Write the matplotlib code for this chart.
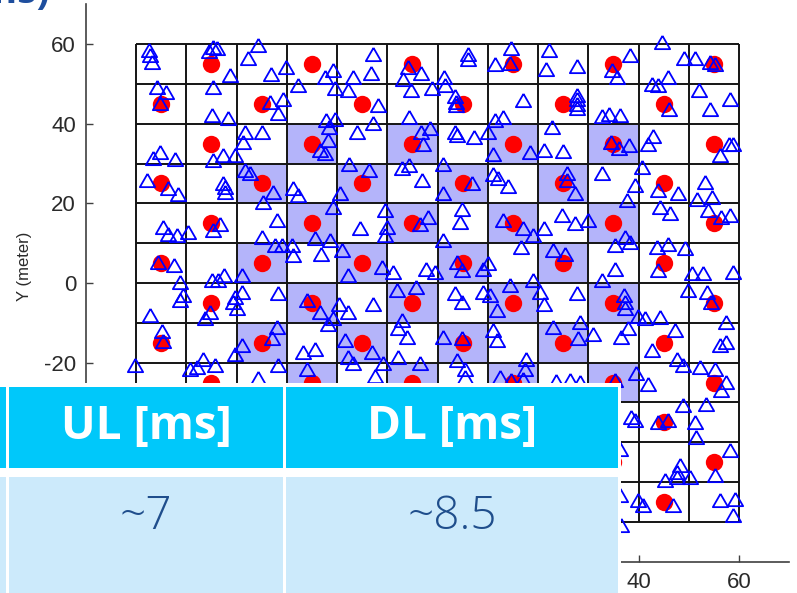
import matplotlib
matplotlib.use('Agg')
import matplotlib.pyplot as plt
from matplotlib.patches import Rectangle

# base stations (red dots), one list of x per row of cells
bs_rows_y = [55, 45, 35, 25, 15, 5, -5, -15, -25, -35, -45, -55]
bs_rows_x = [
    [-45, -25, -5, 15, 35, 55],
    [-55, -35, -15, 5, 25, 45],
    [-45, -25, -5, 15, 35, 55],
    [-55, -35, -15, 5, 25, 45],
    [-45, -25, -5, 15, 35, 55],
    [-55, -35, -15, 5, 25, 45],
    [-45, -25, -5, 15, 35, 55],
    [-55, -35, -15, 5, 25, 45],
    [-45, -25, -5, 15, 35, 55],
    [-55, -35, -15, 5, 25, 45],
    [-45, -25, -5, 15, 35, 55],
    [-55, -35, -15, 5, 25, 45],
]

# shaded cells (centres)
shade_x = [-25, -5, 15, 35, -35, -15, 5, 25, -25, -5, 15, 35, -35, -15, 5, 25,
           -25, -5, 15, 35, -35, -15, 5, 25, -25, -5, 15, 35, -35, -15, 5, 25]
shade_y = [35] * 4 + [25] * 4 + [15] * 4 + [5] * 4 + [-5] * 4 + [-15] * 4 + [-25] * 4 + [-35] * 4

# users (blue triangles), grouped by band of y
ue_band1 = [(-57.4, 58.5), (-57.2, 57.2), (-56.8, 55.5), (-44.7, 59.2), (-43.9, 59.0), (-45.5, 58.3),
            (-41.3, 52.2), (-35.8, 59.7), (-37.7, 56.4), (-33.2, 52.6), (-30.2, 54.3), (-22.4, 51.8),
            (-20.8, 53.5), (-12.9, 57.5), (-13.2, 52.8), (-16.9, 51.8), (-5.8, 54.3), (-3.2, 52.8),
            (-6.8, 51.2), (1.3, 51.6), (1.5, 49.6), (6.0, 57.5), (6.1, 56.2), (11.5, 55.1), (14.4, 55.3),
            (14.7, 58.9), (21.5, 53.7), (22.2, 58.5), (27.7, 54.5), (38.3, 57.2), (34.7, 53.5), (35.8, 51.6),
            (44.6, 60.4), (49.1, 56.4), (51.2, 56.5), (54.3, 55.6), (55.2, 54.9), (45.9, 51.8), (42.7, 49.9),
            (43.9, 49.7)]
ue_band2 = [(-44.6, 49.3), (-55.8, 49.2), (-54.0, 47.9), (-55.2, 45.2), (-44.9, 42.2), (-41.7, 41.4),
            (-33.3, 45.5), (-30.7, 46.3), (-31.7, 42.6), (-27.7, 49.7), (-22.1, 40.9), (-20.4, 48.9),
            (-17.8, 48.4), (-5.3, 48.5), (-1.0, 49.0), (3.5, 47.0), (3.7, 45.5), (3.6, 44.7), (-11.8, 44.7),
            (-12.9, 40.2), (-20.4, 41.3), (-5.6, 41.6), (17.1, 45.9), (11.4, 40.9), (13.1, 41.6),
            (27.7, 47.2), (27.7, 46.2), (27.7, 44.9), (27.7, 43.9), (32.8, 41.9), (34.2, 42.4), (36.3, 42.2),
            (46.0, 43.6), (52.0, 48.4), (58.2, 46.3), (54.2, 43.8)]
ue_band3 = [(-55.2, 32.9), (-56.6, 31.4), (-52.2, 31.1), (-44.7, 30.9), (-42.7, 32.1), (-40.3, 32.1),
            (-38.3, 37.9), (-34.9, 37.9), (-38.7, 35.4), (-21.8, 35.9), (-22.4, 32.6), (-23.4, 33.4),
            (-21.6, 39.2), (-16.1, 38.0), (-3.3, 38.0), (-1.4, 38.9), (-2.9, 35.0), (3.4, 38.0), (3.8, 37.1),
            (7.2, 36.6), (10.1, 38.0), (11.1, 32.4), (18.4, 32.8), (-17.6, 30.0), (22.7, 39.2), (21.2, 33.4),
            (25.0, 33.2), (34.6, 35.3), (38.1, 34.6), (36.1, 34.0), (42.9, 36.9), (41.9, 34.8), (58.0, 35.0),
            (58.9, 35.0), (56.2, 32.1)]
ue_band4 = [(-57.8, 25.8), (-53.6, 23.8), (-51.6, 22.3), (-42.7, 25.1), (-42.3, 24.1), (-42.3, 22.8),
            (-38.3, 28.3), (-37.3, 27.6), (-32.7, 22.8), (-34.7, 20.3), (-28.8, 23.8), (-27.8, 22.1),
            (-19.4, 22.5), (-20.8, 19.0), (-13.6, 28.3), (-7.0, 28.8), (-5.7, 29.6), (-3.0, 25.8), (1.0, 30.0),
            (1.1, 22.5), (6.8, 25.0), (11.0, 27.3), (12.0, 26.4), (14.1, 24.3), (25.7, 27.7), (25.7, 25.8),
            (27.4, 22.5), (32.8, 27.5), (40.6, 29.2), (39.3, 24.6), (37.7, 20.8), (43.9, 23.3), (47.9, 22.5),
            (53.2, 25.4), (51.7, 21.2), (54.6, 21.6)]
ue_band5 = [(-54.6, 14.1), (-53.6, 12.4), (-51.9, 12.0), (-49.6, 12.8), (-44.6, 13.3), (-43.3, 14.9),
            (-35.0, 11.6), (-32.3, 9.5), (-31.0, 9.5), (-29.0, 9.5), (-32.0, 15.8), (-24.4, 11.2),
            (-21.4, 10.8), (-10.5, 18.3), (-10.1, 14.1), (-10.5, 12.0), (-15.4, 13.7), (-1.8, 16.6),
            (-3.5, 14.9), (4.8, 18.5), (4.5, 15.4), (13.1, 15.8), (17.1, 13.7), (19.1, 12.0), (1.1, 10.8),
            (16.7, 9.1), (24.7, 17.0), (27.4, 15.0), (30.0, 15.8), (21.1, 13.7), (35.3, 9.5), (37.3, 11.6),
            (38.3, 10.3), (44.3, 19.1), (46.3, 17.5), (43.6, 9.1), (45.9, 9.9), (49.2, 8.7), (53.9, 18.3),
            (56.5, 16.6), (58.2, 17.0)]
ue_band6 = [(-55.6, 5.3), (-52.4, 4.5), (-51.2, 0.3), (-44.9, 0.7), (-43.6, 0.7), (-42.4, 1.9),
            (-39.0, 1.9), (-28.7, 7.0), (-23.1, 7.4), (-19.1, 8.2), (-17.8, 2.0), (-11.1, 4.1), (-8.8, 2.8),
            (-2.2, 3.6), (-0.5, 2.8), (3.8, 5.3), (4.8, 3.2), (9.1, 3.6), (10.1, 4.9), (14.4, -0.6),
            (19.1, 0.7), (23.0, 8.2), (25.4, 7.4), (35.3, 3.6), (32.7, 0.7), (43.9, 3.2), (50.6, 2.4),
            (52.9, 2.4), (58.9, 2.8)]
ue_band7 = [(-51.2, -4.3), (-50.6, -3.1), (-57.2, -8.1), (-45.3, -7.3), (-46.3, -8.9), (-40.6, -4.7),
            (-40.0, -6.4), (-40.3, -3.5), (-39.0, -2.2), (-31.7, -2.6), (-26.0, -4.3), (-23.4, -7.3),
            (-21.7, -10.2), (-19.7, -5.2), (-17.8, -7.3), (-20.7, -8.9), (-12.8, -5.2), (-8.1, -1.8),
            (-4.3, -0.9), (3.5, -2.6), (4.8, -4.7), (9.1, -2.2), (10.4, -3.1), (11.8, -6.8), (20.4, -2.2),
            (21.1, -5.2), (27.7, -2.6), (37.2, -3.1), (37.3, -4.7), (37.3, -6.4), (39.9, -8.3), (41.3, -8.9),
            (44.3, -8.5), (49.9, -1.8), (53.6, -2.2), (54.5, -4.7), (57.5, -9.8)]
ue_band8 = [(-54.9, -12.0), (-54.6, -14.6), (-32.0, -11.0), (-33.0, -13.9), (-39.0, -15.6), (-40.3, -17.7),
            (-26.7, -17.3), (-24.4, -16.5), (-46.6, -19.0), (-47.9, -21.1), (-44.3, -20.6), (-49.3, -21.5),
            (-60.2, -20.6), (-31.7, -20.6), (-26.0, -21.5), (-35.7, -23.8), (-7.1, -9.3), (-7.8, -11.4),
            (-6.1, -13.5), (-18.4, -14.4), (-13.1, -17.3), (-17.8, -18.6), (-16.8, -20.2), (1.1, -13.5),
            (4.8, -13.9), (11.1, -11.9), (11.8, -14.4), (17.7, -19.0), (17.4, -21.5), (-7.8, -18.6),
            (-3.5, -20.2), (3.8, -19.4), (5.5, -21.5), (-12.4, -23.4), (-10.8, -20.2), (5.4, -23.6),
            (12.4, -23.6), (14.7, -24.4), (17.0, -24.0), (23.0, -11.0), (28.4, -9.8), (28.0, -13.9),
            (31.0, -12.7), (38.0, -11.4), (36.6, -13.5), (42.6, -16.9), (47.2, -11.9), (47.6, -19.0),
            (48.9, -20.6), (52.2, -21.1), (55.2, -21.5), (56.2, -15.6), (57.5, -14.8)]
ue_band9 = [(23.6, -24.6), (26.4, -24.4), (28.3, -24.8), (35.3, -24.4), (39.4, -22.7), (41.8, -25.3),
            (57.5, -24.8), (56.5, -26.9), (48.9, -30.7), (53.5, -30.3), (38.6, -33.6), (39.3, -34.4),
            (43.9, -34.9), (45.9, -34.4), (51.2, -34.9), (51.5, -38.6), (36.3, -41.6), (58.2, -42.0),
            (48.2, -45.8), (47.6, -47.4), (47.6, -48.7), (50.2, -48.7), (45.2, -49.5), (55.2, -48.3),
            (39.9, -54.6), (40.9, -55.8), (46.9, -55.8), (56.2, -54.6), (59.2, -54.2), (58.8, -58.3),
            (36.3, -53.3), (36.6, -60.8)]
ue_bands = [ue_band1, ue_band2, ue_band3, ue_band4, ue_band5, ue_band6, ue_band7, ue_band8, ue_band9]

# table overlay
header_labels = ['', 'UL [ms]', 'DL [ms]']
row_values = ['', '~7', '~8.5']

fig = plt.figure(figsize=(7.97, 5.93), dpi=100)
ax = fig.add_axes([0.1076, 0.0526, 0.8827, 0.9403])

for cx, cy in zip(shade_x, shade_y):
    ax.add_patch(Rectangle((cx - 5, cy - 5), 10, 10, facecolor='#b4b4fa', edgecolor='none', zorder=1))

lines = list(range(-60, 61, 10))
ax.vlines(lines, -60, 60, colors='#141414', lw=1.4, zorder=2)
ax.hlines(lines, -60, 60, colors='#141414', lw=1.4, zorder=2)

for yy, xs in zip(bs_rows_y, bs_rows_x):
    ax.plot(xs, [yy] * len(xs), 'o', color='red', markersize=12.5, markeredgewidth=0, zorder=3)

tri = [(0, 0.87), (-1, -0.87), (1, -0.87), (0, 0.87)]
for band in ue_bands:
    ax.plot([p[0] for p in band], [p[1] for p in band], linestyle='none', marker=tri,
            markersize=11, markerfacecolor='none', markeredgecolor='#0000ff',
            markeredgewidth=1.3, zorder=4, clip_on=False)

ax.set_xlim(-70, 70)
ax.set_ylim(-70, 70)
xt = list(range(-60, 61, 20))
ax.set_xticks(xt)
ax.set_yticks(xt)
# labels that sit under the table are not shown
ax.set_xticklabels([str(v) if v >= 40 else '' for v in xt])
ax.set_yticklabels([str(v) if v >= -20 else '' for v in xt])
for s in ['top', 'right']:
    ax.spines[s].set_visible(False)
for s in ['left', 'bottom']:
    ax.spines[s].set_color('#404040')
    ax.spines[s].set_linewidth(1.2)
ax.tick_params(direction='in', length=5, width=1, colors='#404040', labelcolor='#2a2a2a',
               labelsize=16, pad=7)
for lab in ax.get_xticklabels() + ax.get_yticklabels():
    lab.set_family('Liberation Sans')
fig.text(25 / 797, 1 - 266 / 593, 'Y (meter)', rotation=90, ha='center', va='center',
         fontsize=12, color='#2a2a2a', family='Liberation Sans')

# cut-off heading at top left
fig.text(50 / 797, 1 - 3 / 593, 'ms)', ha='right', va='baseline', fontsize=28,
         color='#1e4e9e', fontweight='bold', family=['Open Sans', 'DejaVu Sans'])

# table drawn in pixel space on top
tab = fig.add_axes([0, 0, 1, 1])
tab.set_xlim(0, 797)
tab.set_ylim(593, 0)
tab.axis('off')
tab.add_patch(Rectangle((0, 383), 621, 210, facecolor='white', edgecolor='none'))
col_left = [0, 9, 286]
col_width = [6, 274, 332]
for x0, w, head, val in zip(col_left, col_width, header_labels, row_values):
    tab.add_patch(Rectangle((x0, 387), w, 81, facecolor='#00c8fa', edgecolor='none'))
    tab.add_patch(Rectangle((x0, 477), w, 120, facecolor='#cceafb', edgecolor='none'))
    if head:
        tab.text(x0 + w / 2, 439, head, ha='center', va='baseline', fontsize=33,
                 fontweight='bold', color='white', family=['Open Sans', 'DejaVu Sans'])
        tab.text(x0 + w / 2, 529, val, ha='center', va='baseline', fontsize=33,
                 fontweight='light', color='#1f4e8c', family=['Open Sans', 'DejaVu Sans'])

fig.savefig('out.png', dpi=100)
